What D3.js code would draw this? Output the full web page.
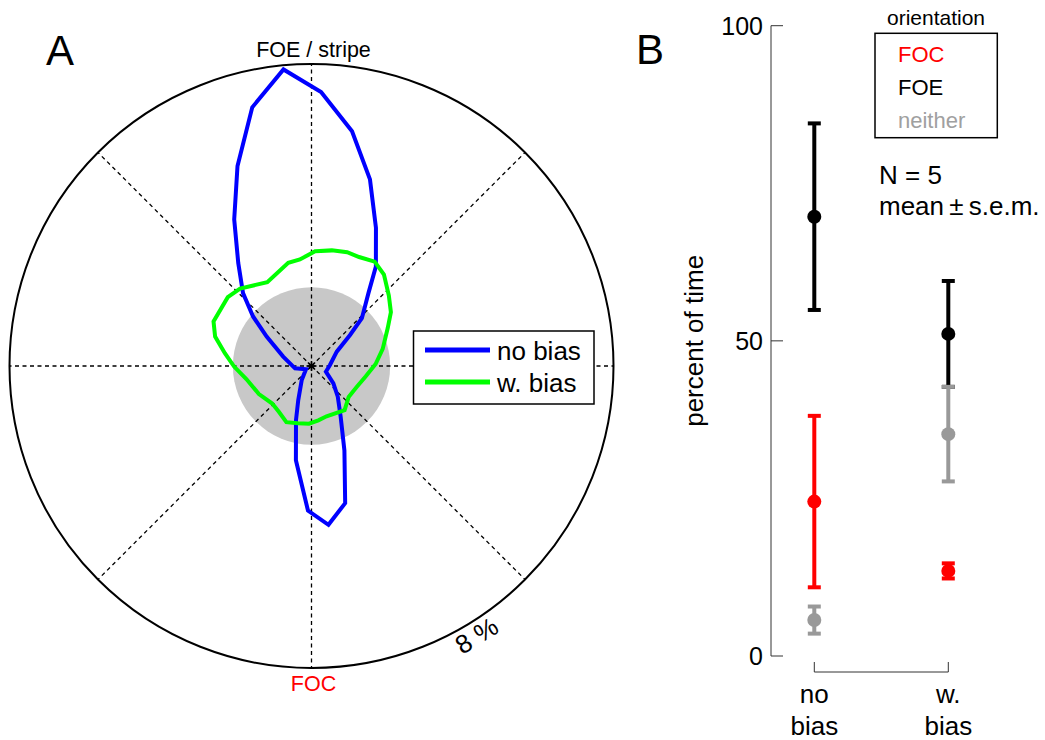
<!DOCTYPE html>
<html>
<head>
<meta charset="utf-8">
<script src="https://cdn.jsdelivr.net/npm/d3@7"></script>
<style>
  html, body { margin: 0; padding: 0; background: #fff; }
  svg text { font-family: "Liberation Sans", Arial, Helvetica, sans-serif; }
</style>
</head>
<body>
<svg id="chart" width="1045" height="740"></svg>
<script>
// ---------- Panel A data (polar: angle in degrees clockwise from FOE/stripe, value in % of time) ----------
const noBiasAngle = [2.0, 9.8, 17.4, 25.0, 32.9, 38.0, 46.5, 51.2, 60.4, 86.9, 111.5, 128.4, 139.4, 150.1, 158.7, 166.2, 173.9, 181.4, 189.4, 196.0, 201.2, 215.0, 239.0, 262.0, 288.3, 303.2, 310.3, 316.8, 324.6, 332.2, 339.7, 347.1, 354.6];
const noBiasPct   = [7.26, 6.31, 5.18, 4.04, 3.14, 2.45, 1.84, 1.31, 0.77, 0.49, 0.41, 0.74, 1.07, 1.55, 2.40, 3.74, 4.23, 3.83, 2.53, 1.49, 0.97, 0.45, 0.17, 0.44, 0.79, 1.42, 2.03, 2.65, 3.35, 4.39, 5.65, 7.03, 7.89];
const wBiasAngle  = [1.8, 10.0, 17.4, 23.6, 31.2, 38.4, 47.7, 55.9, 63.4, 76.5, 88.2, 101.0, 115.0, 129.7, 143.1, 163.3, 172.8, 182.5, 193.3, 204.1, 215.5, 226.3, 241.9, 258.7, 269.6, 278.4, 287.0, 294.4, 309.4, 317.3, 332.2, 347.3, 353.8];
const wBiasPct    = [3.04, 3.11, 3.16, 3.15, 3.23, 3.09, 2.77, 2.54, 2.26, 1.94, 1.70, 1.46, 1.32, 1.28, 1.46, 1.39, 1.45, 1.53, 1.56, 1.63, 1.49, 1.44, 1.58, 1.76, 2.05, 2.32, 2.67, 2.85, 2.87, 2.79, 2.51, 2.80, 2.84];
const polarMax = 8;             // outer ring = 8 %
const uniformPct = 100 / 48;    // shaded disc: uniform distribution
const spokeAngles = [0, 45, 90, 135, 180, 225, 270, 315];
const polarLegend = ["no bias", "w. bias"];

// ---------- Panel B data ----------
const conditions = ["no bias", "w. bias"];
const orientations = ["FOE", "FOC", "neither"];
const foeMean = [69.7, 51.1], foeSem = [14.8, 8.4];
const focMean = [24.5, 13.5], focSem = [13.6, 1.2];
const neitherMean = [5.7, 35.2], neitherSem = [2.15, 7.5];
const yTicks = [0, 50, 100];

const svg = d3.select("#chart");
const FONT = '"Liberation Sans", Arial, Helvetica, sans-serif';

// ================= Panel A =================
const cx = 311.5, cy = 366, R = 302;
const rScale = d3.scaleLinear().domain([0, polarMax]).range([0, R]);
const gA = svg.append("g").attr("transform", `translate(${cx},${cy})`);

gA.append("circle").attr("r", rScale(uniformPct)).attr("fill", "#c8c8c8");

const rad = a => a * Math.PI / 180;
gA.selectAll("line.spoke").data(spokeAngles).enter().append("line")
  .attr("class", "spoke")
  .attr("x1", 0).attr("y1", 0)
  .attr("x2", a => rScale(polarMax) * Math.sin(rad(a)))
  .attr("y2", a => -rScale(polarMax) * Math.cos(rad(a)))
  .attr("stroke", "#000").attr("stroke-width", 1.3).attr("stroke-dasharray", "4,3.5");

gA.append("circle").attr("r", rScale(polarMax)).attr("fill", "none")
  .attr("stroke", "#000").attr("stroke-width", 2);

// centre asterisk
gA.selectAll("line.ast").data([0, 45, 90, 135]).enter().append("line")
  .attr("class", "ast")
  .attr("x1", a => -5 * Math.sin(rad(a))).attr("y1", a => 5 * Math.cos(rad(a)))
  .attr("x2", a => 5 * Math.sin(rad(a))).attr("y2", a => -5 * Math.cos(rad(a)))
  .attr("stroke", "#000").attr("stroke-width", 1.6);

const radial = d3.lineRadial()
  .angle(d => rad(d[0]))
  .radius(d => rScale(d[1]))
  .curve(d3.curveLinearClosed);

const blueData = noBiasAngle.map((a, i) => [a, noBiasPct[i]]);
const greenData = wBiasAngle.map((a, i) => [a, wBiasPct[i]]);

gA.append("path").attr("d", radial(blueData)).attr("fill", "none")
  .attr("stroke", "#0000ff").attr("stroke-width", 4).attr("stroke-linejoin", "miter");
gA.append("path").attr("d", radial(greenData)).attr("fill", "none")
  .attr("stroke", "#00ff00").attr("stroke-width", 4).attr("stroke-linejoin", "miter");

// labels
svg.append("text").attr("x", 60).attr("y", 65).attr("text-anchor", "middle")
  .attr("font-size", 42).text("A");
svg.append("text").attr("x", cx + 2).attr("y", 57).attr("text-anchor", "middle")
  .attr("font-size", 21.5).text("FOE / stripe");
svg.append("text").attr("x", cx + 2).attr("y", 691).attr("text-anchor", "middle")
  .attr("font-size", 21.5).attr("fill", "#ff0000").text("FOC");

// ring label
const labA = 148.5, labR = R + 14;
svg.append("text")
  .attr("transform", `translate(${cx + labR * Math.sin(rad(labA))},${cy - labR * Math.cos(rad(labA))}) rotate(${-(180 - labA)})`)
  .attr("text-anchor", "middle").attr("dy", "0.35em")
  .attr("font-size", 26).text(polarMax + " %");

// legend A
const legA = svg.append("g");
legA.append("rect").attr("x", 413.5).attr("y", 331).attr("width", 180.5).attr("height", 73)
  .attr("fill", "#fff").attr("stroke", "#000").attr("stroke-width", 1.5);
const legColors = ["#0000ff", "#00ff00"];
const legY = [350, 382];
polarLegend.forEach((t, i) => {
  legA.append("line").attr("x1", 425).attr("x2", 490).attr("y1", legY[i]).attr("y2", legY[i])
    .attr("stroke", legColors[i]).attr("stroke-width", 5);
  legA.append("text").attr("x", 497).attr("y", legY[i] + 9.5).attr("font-size", 26).text(t);
});

// ================= Panel B =================
const y = d3.scaleLinear().domain([0, 100]).range([656, 25.7]);
const x = d3.scalePoint().domain(conditions).range([814.3, 948.3]);
const axisX = 771;

svg.append("text").attr("x", 650).attr("y", 64).attr("text-anchor", "middle")
  .attr("font-size", 42).text("B");

const gB = svg.append("g");
gB.append("line").attr("x1", axisX).attr("x2", axisX).attr("y1", y(100)).attr("y2", y(0))
  .attr("stroke", "#333").attr("stroke-width", 1);
gB.selectAll("line.tick").data(yTicks).enter().append("line")
  .attr("class", "tick")
  .attr("x1", axisX).attr("x2", axisX + 12).attr("y1", d => y(d)).attr("y2", d => y(d))
  .attr("stroke", "#333").attr("stroke-width", 1);
gB.selectAll("text.tl").data(yTicks).enter().append("text")
  .attr("class", "tl")
  .attr("x", axisX - 8).attr("y", d => y(d)).attr("dy", "0.36em")
  .attr("text-anchor", "end").attr("font-size", 25).text(d => d);

svg.append("text")
  .attr("transform", `translate(703,${y(50)}) rotate(-90)`)
  .attr("text-anchor", "middle").attr("font-size", 26).text("percent of time");

// x bracket
const bx0 = x(conditions[0]), bx1 = x(conditions[1]);
gB.append("path")
  .attr("d", d3.line()([[bx0, 662], [bx0, 672], [bx1, 672], [bx1, 662]]))
  .attr("fill", "none").attr("stroke", "#333").attr("stroke-width", 1);
conditions.forEach(c => {
  const parts = c.split(" ");
  gB.append("text").attr("x", x(c)).attr("y", 703).attr("text-anchor", "middle")
    .attr("font-size", 26).text(parts[0]);
  gB.append("text").attr("x", x(c)).attr("y", 735).attr("text-anchor", "middle")
    .attr("font-size", 26).text(parts[1]);
});

// error bars
const series = [
  { name: "FOE", color: "#000000", mean: foeMean, sem: foeSem },
  { name: "FOC", color: "#ff0000", mean: focMean, sem: focSem },
  { name: "neither", color: "#999999", mean: neitherMean, sem: neitherSem }
];
series.forEach(s => {
  conditions.forEach((c, i) => {
    const xc = x(c), lo = s.mean[i] - s.sem[i], hi = s.mean[i] + s.sem[i];
    const g = gB.append("g");
    g.append("line").attr("x1", xc).attr("x2", xc).attr("y1", y(lo)).attr("y2", y(hi))
      .attr("stroke", s.color).attr("stroke-width", 4);
    [lo, hi].forEach(v => g.append("line").attr("x1", xc - 6.5).attr("x2", xc + 6.5)
      .attr("y1", y(v)).attr("y2", y(v)).attr("stroke", s.color).attr("stroke-width", 4));
    g.append("circle").attr("cx", xc).attr("cy", y(s.mean[i])).attr("r", 7).attr("fill", s.color);
  });
});

// legend B
const legB = svg.append("g");
legB.append("text").attr("x", 936).attr("y", 25).attr("text-anchor", "middle")
  .attr("font-size", 21).text("orientation");
legB.append("rect").attr("x", 875).attr("y", 33.3).attr("width", 122.3).attr("height", 104.4)
  .attr("fill", "#fff").attr("stroke", "#000").attr("stroke-width", 1.5);
const legBItems = ["FOC", "FOE", "neither"];
const legBColors = ["#ff0000", "#000000", "#a0a0a0"];
const legBY = [61.7, 95, 127.7];
legBItems.forEach((t, i) => {
  legB.append("text").attr("x", 898).attr("y", legBY[i]).attr("font-size", 22)
    .attr("fill", legBColors[i]).text(t);
});

svg.append("text").attr("x", 879).attr("y", 184.3).attr("font-size", 26).text("N = 5");
svg.append("text").attr("x", 879).attr("y", 215).attr("font-size", 26).text("mean\u2009\u00b1\u2009s.e.m.");
</script>
</body>
</html>
